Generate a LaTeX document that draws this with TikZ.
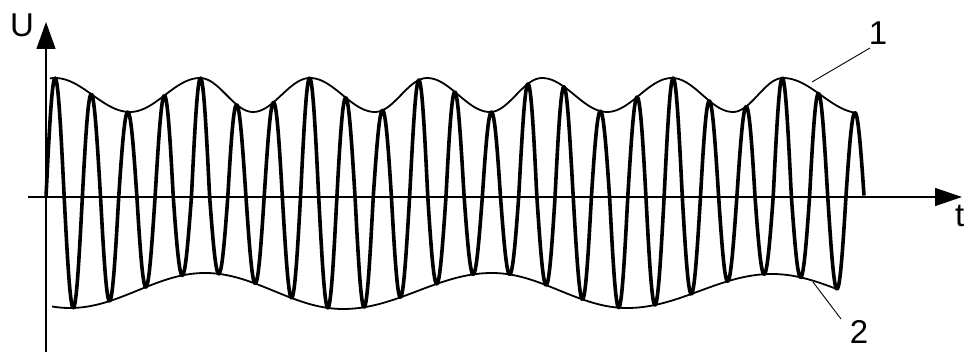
\documentclass[tikz,border=0pt]{standalone}
\usepackage{fontspec}
\setmainfont{Liberation Sans}
\usetikzlibrary{arrows.meta}
\begin{document}
\begin{tikzpicture}[x=1pt,y=-1pt,
  declare function={
    pc(\xa,\ya,\xb,\yb,\xx)=\ya+(\yb-\ya)*(1-cos((\xx-\xa)/(\xb-\xa)*180))/2;
    up(\xx)=(\xx<130)?pc(55,78,130,112,\xx):((\xx<200)?pc(130,112,200,78,\xx):((\xx<253)?pc(200,78,253,112,\xx):((\xx<310)?pc(253,112,310,78,\xx):((\xx<375)?pc(310,78,375,112,\xx):((\xx<427)?pc(375,112,427,78,\xx):((\xx<490)?pc(427,78,490,112,\xx):((\xx<542)?pc(490,112,542,78,\xx):((\xx<607)?pc(542,78,607,112,\xx):((\xx<672)?pc(607,112,672,78,\xx):((\xx<733)?pc(672,78,733,112,\xx):((\xx<783)?pc(733,112,783,78,\xx):pc(783,78,860,113,\xx))))))))))));
    lo(\xx)=(\xx<205)?pc(70,308,205,273,\xx):((\xx<343)?pc(205,273,343,309,\xx):((\xx<492)?pc(343,309,492,273,\xx):((\xx<627)?pc(492,273,627,308,\xx):((\xx<772)?pc(627,308,772,274,\xx):pc(772,274,912,308,\xx)))));
    car(\xx)=sin((\xx-46)/36.36*360)*((sin((\xx-46)/36.36*360)>0)?(197-up(\xx)):(lo(\xx)-197));
  },
  axisline/.style={line width=1.3pt},
  env/.style={line width=1.8pt, line join=round},
  carrier/.style={line width=3.6pt, line join=round},
  leader/.style={line width=0.9pt},
  lbl/.style={font=\fontsize{33}{39}\selectfont, inner sep=0pt}
]
\useasboundingbox (0,0) rectangle (966,352);

% axes
\coordinate (ybot) at (46,352);
\coordinate (ytop) at (46,22);
\coordinate (xleft) at (28,197);
\coordinate (xright) at (962,197);
\draw[axisline, -{Triangle[length=27pt,width=19pt]}] (ybot) -- (ytop);
\draw[axisline, -{Triangle[length=27pt,width=18pt]}] (xleft) -- (xright);

% labels
\node[lbl, anchor=base west] (U) at (10,37) {U};
\node[lbl, anchor=base west] (T) at (955,227) {t};
\node[lbl, anchor=base] (L1) at (878,45) {1};
\node[lbl, anchor=base] (L2) at (859,344) {2};

% envelopes
\draw[env] plot[domain=50:853, samples=300] (\x,{up(\x)});
\draw[env] plot[domain=52:837, samples=300] (\x,{lo(\x)});

% carrier
\draw[carrier] plot[domain=46:864, samples=1300] (\x,{197-car(\x)});

% leaders
\coordinate (e1) at (812,82);
\coordinate (l1) at (870,48);
\coordinate (e2) at (813,282);
\coordinate (l2) at (841,319);
\draw[leader] (e1) -- (l1);
\draw[leader] (e2) -- (l2);
\end{tikzpicture}
\end{document}
